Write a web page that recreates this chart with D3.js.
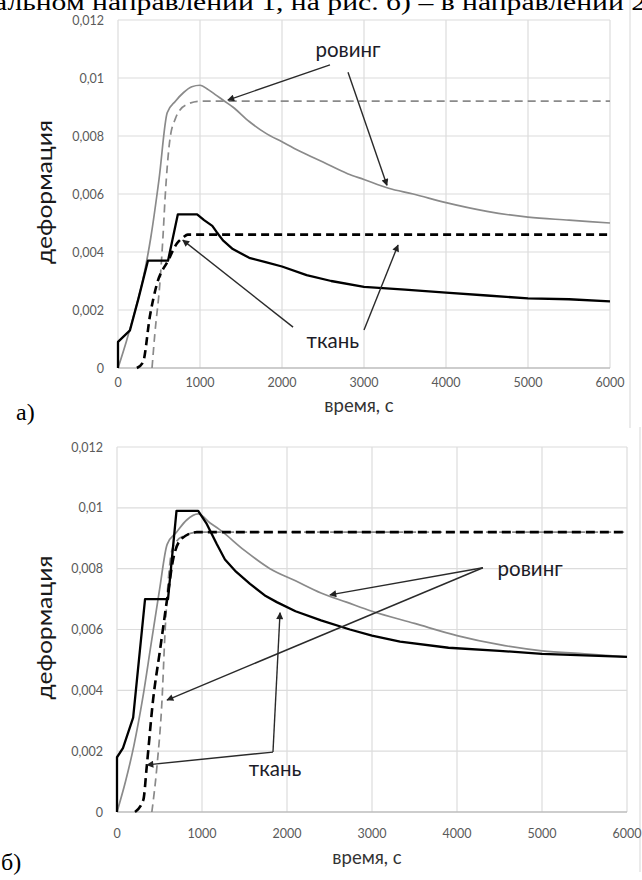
<!DOCTYPE html>
<html>
<head>
<meta charset="utf-8">
<script src="https://cdn.jsdelivr.net/npm/d3@7/dist/d3.min.js"></script>
<style>
  body { margin: 0; background: #fff; }
  svg { display: block; }
</style>
</head>
<body>
<svg id="fig" width="642" height="880"></svg>
<script>
// shared axis ticks
const timeTicks = [0, 1000, 2000, 3000, 4000, 5000, 6000];
const strainTicks = [0, 0.002, 0.004, 0.006, 0.008, 0.01, 0.012];
const strainTickLabels = ["0", "0,002", "0,004", "0,006", "0,008", "0,01", "0,012"];

// panel a) - time (s) and strain values
const aRovingSolidT = [0, 100, 200, 300, 400, 500, 600, 700, 800, 900, 1000, 1100, 1200, 1300, 1400, 1600, 1800, 2000, 2200, 2500, 2800, 3000, 3300, 3600, 4000, 4500, 5000, 5500, 6000];
const aRovingSolidV = [0, 0.0009, 0.0019, 0.0030, 0.0045, 0.0065, 0.0088, 0.0092, 0.0095, 0.0097, 0.00975, 0.0096, 0.0094, 0.0092, 0.0090, 0.0085, 0.0081, 0.0078, 0.0075, 0.0071, 0.0067, 0.0065, 0.0062, 0.0060, 0.0057, 0.0054, 0.0052, 0.0051, 0.0050];
const aRovingDashT = [415, 450, 510, 550, 573, 634, 700, 756, 850, 1000, 6000];
const aRovingDashV = [0, 0.0012, 0.0029, 0.0046, 0.0058, 0.0079, 0.0086, 0.0089, 0.0091, 0.0092, 0.0092];
const aTkanSolidT = [0, 0, 146, 250, 365, 610, 730, 965, 1050, 1150, 1200, 1280, 1400, 1600, 1800, 2000, 2300, 2600, 3000, 3500, 4000, 4500, 5000, 5500, 6000];
const aTkanSolidV = [0, 0.0009, 0.0013, 0.0024, 0.0037, 0.0037, 0.0053, 0.0053, 0.0051, 0.0049, 0.0047, 0.0044, 0.0041, 0.0038, 0.00365, 0.0035, 0.0032, 0.0030, 0.0028, 0.0027, 0.0026, 0.0025, 0.0024, 0.00237, 0.0023];
const aTkanDashT = [230, 305, 390, 475, 610, 720, 795, 850, 6000];
const aTkanDashV = [0, 0.0002, 0.0018, 0.0029, 0.0037, 0.0043, 0.0045, 0.0046, 0.0046];

// panel b)
const bRovingSolidT = [0, 100, 200, 300, 400, 500, 590, 700, 820, 955, 1095, 1200, 1500, 1800, 2100, 2400, 2700, 3000, 3500, 4000, 4500, 5000, 5500, 6000];
const bRovingSolidV = [0, 0.0010, 0.0022, 0.0037, 0.0055, 0.0073, 0.0088, 0.0092, 0.0096, 0.0098, 0.0095, 0.0093, 0.0086, 0.0080, 0.0076, 0.0072, 0.0069, 0.0066, 0.0062, 0.0058, 0.0055, 0.0053, 0.0052, 0.0051];
const bRovingDashT = [410, 470, 530, 565, 600, 645, 700, 800, 950, 6000];
const bRovingDashV = [0, 0.0015, 0.0037, 0.0059, 0.0075, 0.0086, 0.0089, 0.0091, 0.0092, 0.0092];
const bTkanSolidT = [0, 0, 70, 190, 330, 600, 700, 955, 1050, 1175, 1270, 1400, 1565, 1750, 1880, 2100, 2400, 2740, 3000, 3330, 3900, 4500, 5000, 5500, 6000];
const bTkanSolidV = [0, 0.0018, 0.0021, 0.0031, 0.0070, 0.0070, 0.0099, 0.0099, 0.0095, 0.0088, 0.0083, 0.0079, 0.0075, 0.0071, 0.0069, 0.0066, 0.0063, 0.0060, 0.0058, 0.0056, 0.0054, 0.0053, 0.0052, 0.00515, 0.0051];
const bTkanDashT = [212, 310, 350, 425, 505, 600, 660, 765, 940, 6000];
const bTkanDashV = [0, 0.0004, 0.0015, 0.0037, 0.0053, 0.0072, 0.0083, 0.0090, 0.0092, 0.0092];

// callouts, in data units: [label, label t, label v, [[from t, from v, to t, to v], ...]]
const aNotes = [
  ["ровинг", 2805, 0.01072, [[2585, 0.01045, 1340, 0.00924], [2805, 0.0102, 3280, 0.0063]]],
  ["ткань", 2620, 0.00069, [[2135, 0.00141, 790, 0.00441], [3000, 0.00131, 3415, 0.00424]]]
];
const bNotes = [
  ["ровинг", 4860, 0.00776, [[4305, 0.00803, 2505, 0.00714], [4305, 0.00803, 588, 0.00368]]],
  ["ткань", 1860, 0.00118, [[1835, 0.00197, 353, 0.00155], [1835, 0.00197, 1918, 0.00655]]]
];

const zip = (t, v) => t.map((d, i) => [d, v[i]]);

const svg = d3.select("#fig");

svg.append("defs").append("marker")
    .attr("id", "arr")
    .attr("viewBox", "0 0 10 10")
    .attr("refX", 9).attr("refY", 5)
    .attr("markerWidth", 9).attr("markerHeight", 7)
    .attr("markerUnits", "userSpaceOnUse")
    .attr("orient", "auto")
  .append("path")
    .attr("d", "M0,0 L10,5 L0,10 Z")
    .attr("fill", "#222");

// cut-off line of the paper's text above the figure
svg.append("text")
    .attr("x", -6).attr("y", 10)
    .attr("textLength", 652)
    .attr("lengthAdjust", "spacingAndGlyphs")
    .style("font-family", "'Liberation Serif', serif")
    .style("font-size", "23px")
    .text("альном направлении 1, на рис. б) – в направлении 2");

function drawPanel(p) {
  const x = d3.scaleLinear().domain([0, 6000]).range([p.left, p.right]);
  const y = d3.scaleLinear().domain([0, 0.012]).range([p.bottom, p.top]);
  const g = svg.append("g");

  // grid
  g.append("g").selectAll("line").data(strainTicks.slice(1)).join("line")
      .attr("x1", p.left).attr("x2", p.right)
      .attr("y1", d => y(d)).attr("y2", d => y(d))
      .attr("stroke", "#dcdcdc").attr("stroke-width", 1.2);
  g.append("g").selectAll("line").data(timeTicks).join("line")
      .attr("x1", d => x(d)).attr("x2", d => x(d))
      .attr("y1", p.top).attr("y2", p.bottom)
      .attr("stroke", "#dcdcdc").attr("stroke-width", 1.2);
  g.append("line")
      .attr("x1", p.left).attr("x2", p.right)
      .attr("y1", y(0)).attr("y2", y(0))
      .attr("stroke", "#bdbdbd").attr("stroke-width", 1.3);
  // faint chart frame on the right
  g.append("line")
      .attr("x1", p.frame).attr("x2", p.frame)
      .attr("y1", p.top - 20).attr("y2", p.bottom + 60)
      .attr("stroke", "#e4e4e4").attr("stroke-width", 1.5);

  // tick labels
  g.append("g").selectAll("text").data(strainTicks).join("text")
      .attr("x", p.left - 14).attr("y", d => y(d) + 4.5)
      .attr("text-anchor", "end")
      .style("font-family", "Lato, sans-serif").style("font-size", "12.5px")
      .attr("fill", "#5a5a5a")
      .text((d, i) => strainTickLabels[i]);
  g.append("g").selectAll("text").data(timeTicks).join("text")
      .attr("x", d => x(d)).attr("y", y(0) + p.tickGap)
      .attr("text-anchor", "middle")
      .style("font-family", "Lato, sans-serif").style("font-size", "12.5px")
      .attr("fill", "#5a5a5a")
      .text(d => d);

  // axis titles
  g.append("text")
      .attr("x", (p.left + p.right) / 2 - 5).attr("y", p.xTitleY)
      .attr("text-anchor", "middle")
      .style("font-family", "Lato, sans-serif").style("font-size", "18.5px")
      .attr("fill", "#333")
      .text("время, с");
  g.append("text")
      .attr("transform", `translate(${p.yTitleX},${y(0.006) - 2}) rotate(-90)`)
      .attr("text-anchor", "middle")
      .attr("textLength", 144)
      .attr("lengthAdjust", "spacingAndGlyphs")
      .style("font-family", "Lato, sans-serif").style("font-size", "21px")
      .attr("fill", "#1a1a1a")
      .text("деформация");
  g.append("text")
      .attr("x", p.tagX).attr("y", p.tagY)
      .style("font-family", "'Liberation Serif', serif").style("font-size", "24px")
      .text(p.tag);

  const smooth = d3.line().x(d => x(d[0])).y(d => y(d[1])).curve(d3.curveMonotoneX);
  const straight = d3.line().x(d => x(d[0])).y(d => y(d[1]));

  g.append("path").datum(zip(p.rs[0], p.rs[1]))
      .attr("d", smooth).attr("fill", "none")
      .attr("stroke", "#8a8a8a").attr("stroke-width", 1.7);
  g.append("path").datum(zip(p.rd[0], p.rd[1]))
      .attr("d", smooth).attr("fill", "none")
      .attr("stroke", "#8a8a8a").attr("stroke-width", 1.7)
      .attr("stroke-dasharray", "8,5");
  g.append("path").datum(zip(p.ts[0], p.ts[1]))
      .attr("d", straight).attr("fill", "none")
      .attr("stroke", "#000").attr("stroke-width", 2.3)
      .attr("stroke-linejoin", "round");
  g.append("path").datum(zip(p.td[0], p.td[1]))
      .attr("d", smooth).attr("fill", "none")
      .attr("stroke", "#000").attr("stroke-width", 2.6)
      .attr("stroke-dasharray", p.tkanDash);

  // callouts
  p.notes.forEach(n => {
    g.append("text")
        .attr("x", x(n[1])).attr("y", y(n[2]))
        .attr("text-anchor", "middle")
        .style("font-family", "Lato, sans-serif").style("font-size", "20.5px")
        .attr("fill", "#1c1c28")
        .text(n[0]);
    n[3].forEach(a => {
      g.append("line")
          .attr("x1", x(a[0])).attr("y1", y(a[1]))
          .attr("x2", x(a[2])).attr("y2", y(a[3]))
          .attr("stroke", "#2a2a2a").attr("stroke-width", 1.4)
          .attr("marker-end", "url(#arr)");
    });
  });
}

drawPanel({
  left: 118, right: 610, top: 20, bottom: 368, frame: 630,
  tickGap: 19, xTitleY: 412, yTitleX: 52, tagX: 16, tagY: 420, tag: "а)",
  rs: [aRovingSolidT, aRovingSolidV], rd: [aRovingDashT, aRovingDashV],
  ts: [aTkanSolidT, aTkanSolidV], td: [aTkanDashT, aTkanDashV],
  tkanDash: "8,5", notes: aNotes
});

drawPanel({
  left: 117, right: 627, top: 447, bottom: 812, frame: 640,
  tickGap: 26, xTitleY: 864, yTitleX: 52, tagX: 1, tagY: 870, tag: "б)",
  rs: [bRovingSolidT, bRovingSolidV], rd: [bRovingDashT, bRovingDashV],
  ts: [bTkanSolidT, bTkanSolidV], td: [bTkanDashT, bTkanDashV],
  tkanDash: "9,5", notes: bNotes
});
</script>
</body>
</html>
